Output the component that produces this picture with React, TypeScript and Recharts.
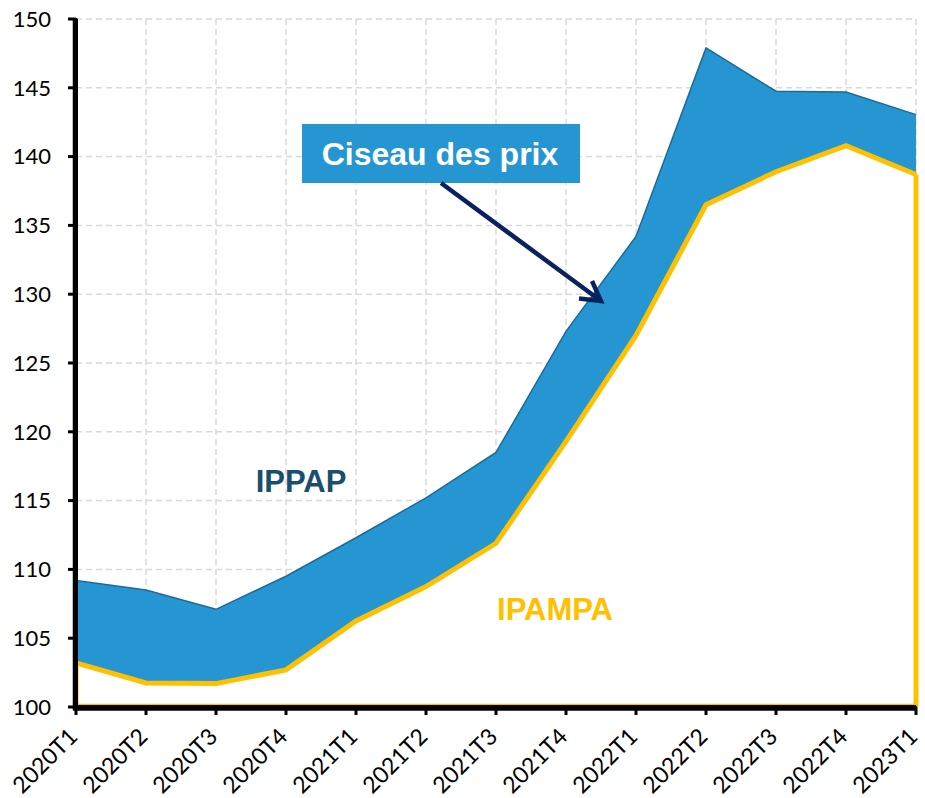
import React from 'react';
import { AreaChart, Area, XAxis, YAxis, CartesianGrid, ReferenceLine } from 'recharts';

const categories = ['2020T1', '2020T2', '2020T3', '2020T4', '2021T1', '2021T2', '2021T3', '2021T4', '2022T1', '2022T2', '2022T3', '2022T4', '2023T1'];
const ippap = [109.2, 108.5, 107.1, 109.5, 112.3, 115.2, 118.5, 127.3, 134.2, 147.9, 144.75, 144.7, 143.05];
const ipampa = [103.2, 101.75, 101.7, 102.7, 106.25, 108.75, 111.9, 119.3, 127.0, 136.5, 138.9, 140.8, 138.7];
const yTicks = [100, 105, 110, 115, 120, 125, 130, 135, 140, 145, 150];

const data = categories.map((c, i) => ({ cat: c, ippap: ippap[i], ipampa: ipampa[i] }));

const BLUE = '#2596D1';
const BLUE_STROKE = '#1B6A9A';
const YELLOW = '#FFC000';

const XTick = (props: any) => {
  const { x, y, payload } = props;
  return (
    <g transform={`translate(${x + 3},${y + 23})`}>
      <text x={0} y={0} textAnchor="end" transform="rotate(-45)" fontFamily="Lato" fontSize={23} fill="#000">
        {payload.value}
      </text>
    </g>
  );
};

const LeftAxisShape = (props: any) => {
  const { x1, y1, x2, y2 } = props;
  const xx = Math.min(x1, x2) - 1;
  return <line x1={xx} y1={Math.min(y1, y2) - 1} x2={xx} y2={Math.max(y1, y2) + 3} stroke="#000" strokeWidth={4.5} />;
};

const BottomAxisShape = (props: any) => {
  const { x1, y1, x2 } = props;
  const a = Math.min(x1, x2);
  const b = Math.max(x1, x2);
  return (
    <g>
      <line x1={a + 1} y1={y1 - 2} x2={b} y2={y1 - 2} stroke={YELLOW} strokeWidth={2.5} />
      <line x1={a - 3} y1={y1 + 1.5} x2={b + 1} y2={y1 + 1.5} stroke="#000" strokeWidth={4.5} />
    </g>
  );
};

export default function App() {
  const last = categories.length - 1;
  return (
    <div style={{ position: 'absolute', left: 0, top: 0, width: 925, height: 798, background: '#fff' }}>
      <AreaChart width={925} height={798} data={data} margin={{ top: 19, right: 9, left: 0, bottom: 0 }}>
        <CartesianGrid stroke="#d9d9d9" strokeDasharray="6 4" strokeWidth={1.5} />
        <XAxis
          dataKey="cat"
          height={91}
          interval={0}
          tick={<XTick />}
          tickSize={8}
          tickMargin={0}
          axisLine={{ stroke: '#000', strokeWidth: 4 }}
          tickLine={{ stroke: '#000', strokeWidth: 3 }}
        />
        <YAxis
          width={76}
          domain={[100, 150]}
          ticks={yTicks}
          interval={0}
          allowDataOverflow
          tickSize={8}
          tickMargin={17}
          tick={{ fontFamily: 'Lato', fontSize: 22, fill: '#000' }}
          axisLine={{ stroke: '#000', strokeWidth: 4 }}
          tickLine={{ stroke: '#000', strokeWidth: 3 }}
        />
        <Area
          type="linear"
          dataKey="ippap"
          baseValue={100}
          fill={BLUE}
          fillOpacity={1}
          stroke={BLUE_STROKE}
          strokeWidth={1.5}
          isAnimationActive={false}
          dot={false}
          activeDot={false}
        />
        <Area
          type="linear"
          dataKey="ipampa"
          baseValue={100}
          fill="#ffffff"
          fillOpacity={1}
          stroke={YELLOW}
          strokeWidth={5}
          isAnimationActive={false}
          dot={false}
          activeDot={false}
        />
        <ReferenceLine
          segment={[{ x: categories[last], y: 100 }, { x: categories[last], y: ipampa[last] }]}
          stroke={YELLOW}
          strokeWidth={5}
        />
        <ReferenceLine
          segment={[{ x: categories[0], y: 100 }, { x: categories[0], y: ipampa[0] }]}
          stroke={YELLOW}
          strokeWidth={5}
        />
        <ReferenceLine x={categories[0]} shape={<LeftAxisShape />} />
        <ReferenceLine y={100} shape={<BottomAxisShape />} />
      </AreaChart>
      <svg width={925} height={798} style={{ position: 'absolute', left: 0, top: 0, pointerEvents: 'none' }}>
        <rect x={302} y={124} width={278} height={59} fill={BLUE} />
        <text x={440} y={165} textAnchor="middle" fontFamily="Liberation Sans" fontWeight="bold" fontSize={32} fill="#fff">
          Ciseau des prix
        </text>
        <line x1={441} y1={183} x2={599} y2={299.5} stroke="#0A2160" strokeWidth={4.5} />
        <polyline points="592,281 601,301 579,298.5" fill="none" stroke="#0A2160" strokeWidth={4.5} strokeLinejoin="miter" />
        <text x={301} y={492} textAnchor="middle" fontFamily="Liberation Sans" fontWeight="bold" fontSize={31} fill="#1A4E70">
          IPPAP
        </text>
        <text x={555} y={620} textAnchor="middle" fontFamily="Liberation Sans" fontWeight="bold" fontSize={31} fill={YELLOW}>
          IPAMPA
        </text>
      </svg>
    </div>
  );
}
